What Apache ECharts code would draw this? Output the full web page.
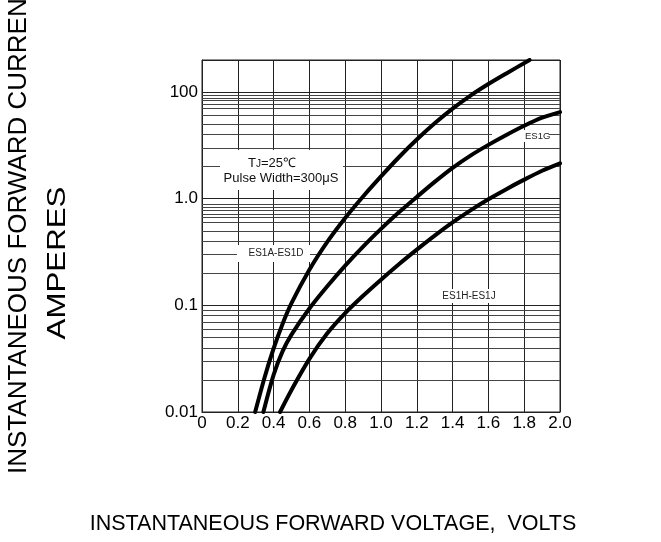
<!DOCTYPE html>
<html>
<head>
<meta charset="utf-8">
<script src="https://cdn.jsdelivr.net/npm/echarts@6/dist/echarts.min.js"></script>
<style>
  html, body { margin: 0; padding: 0; background: #fff; }
  #main { width: 661px; height: 542px; }
</style>
</head>
<body>
<div id="main"></div>
<script>
// [volts, amperes]
var es1aToEs1d = [[0.297, 0.01], [0.35, 0.0212], [0.4, 0.0394], [0.45, 0.067], [0.5, 0.105],
  [0.6, 0.216], [0.7, 0.394], [0.8, 0.66], [0.9, 1.05], [1.0, 1.62], [1.1, 2.45], [1.2, 3.59],
  [1.3, 5.1], [1.4, 7.0], [1.5, 9.28], [1.6, 11.9], [1.7, 14.96], [1.83, 20]];
var es1g = [[0.343, 0.01], [0.4, 0.0223], [0.45, 0.037], [0.5, 0.0531], [0.6, 0.0934], [0.7, 0.151],
  [0.8, 0.236], [0.9, 0.356], [1.0, 0.521], [1.1, 0.745], [1.2, 1.04], [1.3, 1.44], [1.4, 1.95],
  [1.5, 2.54], [1.6, 3.2], [1.7, 3.96], [1.8, 4.83], [1.9, 5.75], [2.0, 6.5]];
var es1hToEs1j = [[0.436, 0.01], [0.5, 0.0161], [0.6, 0.0315], [0.7, 0.0547], [0.8, 0.0847],
  [0.9, 0.123], [1.0, 0.174], [1.1, 0.243], [1.2, 0.333], [1.3, 0.451], [1.4, 0.599], [1.5, 0.777],
  [1.6, 0.987], [1.7, 1.23], [1.8, 1.51], [1.9, 1.83], [2.0, 2.15]];

var xTickLabels = ['0', '0.2', '0.4', '0.6', '0.8', '1.0', '1.2', '1.4', '1.6', '1.8', '2.0'];
var yTickValues = [0.01, 0.1, 1, 10];
var yTickLabels = ['0.01', '0.1', '1.0', '100'];
// the printed grid is uneven near the top of each decade
var minorGrid = [9.4, 8.8, 8.3, 7.7, 7.1, 6.1, 5, 4, 3, 2,
  0.88, 0.83, 0.78, 0.72, 0.67, 0.6, 0.5, 0.4, 0.3, 0.2,
  0.09, 0.084, 0.077, 0.07, 0.06, 0.05, 0.04, 0.03, 0.02];

var FONT = "'Liberation Sans', Arial, sans-serif";
var chart = echarts.init(document.getElementById('main'));

function curve(name, data) {
  return {
    name: name,
    type: 'line',
    data: data,
    smooth: 0.3,
    showSymbol: false,
    silent: true,
    z: 3,
    lineStyle: { color: '#000', width: 4, join: 'round', cap: 'round' }
  };
}

function label(text, x, y, box, size) {
  return [
    { type: 'rect', z: 2, silent: true, shape: box, style: { fill: '#fff' } },
    { type: 'text', z: 2, silent: true, x: x, y: y,
      style: { text: text, font: size + 'px ' + FONT, fill: '#222',
        align: 'center', verticalAlign: 'middle', textAlign: 'center', textVerticalAlign: 'middle' } }
  ];
}

var series = [
  curve('ES1A-ES1D', es1aToEs1d),
  curve('ES1G', es1g),
  curve('ES1H-ES1J', es1hToEs1j)
];
series[2].markLine = {
  silent: true,
  z: 1,
  symbol: 'none',
  animation: false,
  label: { show: false },
  lineStyle: { color: '#444', width: 1, type: 'solid' },
  data: minorGrid.map(function (v) { return { yAxis: v }; })
};

var graphics = [].concat(
  label('', 0, 0, { x: 220, y: 150, width: 123, height: 40 }, 13),
  label('ES1A-ES1D', 276, 253, { x: 237, y: 245, width: 73, height: 17 }, 10),
  label('ES1H-ES1J', 469, 296, { x: 436, y: 289, width: 66, height: 14 }, 10),
  [
    { type: 'rect', z: 2, silent: true, shape: { x: 492, y: 130, width: 57, height: 12 }, style: { fill: '#fff' } },
    { type: 'text', z: 2, silent: true, x: 525, y: 136,
      style: { text: 'ES1G', font: '9.5px ' + FONT, fill: '#222', align: 'left', verticalAlign: 'middle',
        textAlign: 'left', textVerticalAlign: 'middle' } },
    { type: 'text', z: 2, silent: true, x: 272, y: 163,
      style: { text: '{n|T}{s|J}{n|=25℃}', align: 'center', verticalAlign: 'middle',
        textAlign: 'center', textVerticalAlign: 'middle',
        rich: {
          n: { font: '13px ' + FONT, fill: '#111', lineHeight: 15 },
          s: { font: '10px ' + FONT, fill: '#111', lineHeight: 15, verticalAlign: 'bottom', padding: [0, 0, 1, 0] }
        } } },
    { type: 'text', z: 2, silent: true, x: 281, y: 178,
      style: { text: 'Pulse Width=300μS', font: '13px ' + FONT, fill: '#111', align: 'center',
        verticalAlign: 'middle', textAlign: 'center', textVerticalAlign: 'middle' } },
    { type: 'text', silent: true, x: 19, y: 474, rotation: Math.PI / 2,
      style: { text: 'INSTANTANEOUS FORWARD CURRENT', font: '26px ' + FONT, fill: '#000',
        align: 'left', verticalAlign: 'middle', textAlign: 'left', textVerticalAlign: 'middle' } },
    { type: 'text', silent: true, x: 58, y: 263, rotation: Math.PI / 2, scaleX: 1.25,
      style: { text: 'AMPERES', font: '25px ' + FONT, fill: '#000',
        align: 'center', verticalAlign: 'middle', textAlign: 'center', textVerticalAlign: 'middle' } },
    { type: 'text', silent: true, x: 333, y: 524,
      style: { text: 'INSTANTANEOUS FORWARD VOLTAGE,  VOLTS', font: '21.5px ' + FONT, fill: '#000',
        align: 'center', verticalAlign: 'middle', textAlign: 'center', textVerticalAlign: 'middle' } }
  ]
);

chart.setOption({
  animation: false,
  backgroundColor: '#fff',
  grid: { left: 202, top: 60, right: 101, bottom: 130, show: true, borderColor: '#222', borderWidth: 1 },
  xAxis: {
    type: 'value',
    min: 0,
    max: 2,
    interval: 0.2,
    axisLine: { show: true, lineStyle: { color: '#222', width: 1 } },
    axisTick: { show: false },
    splitLine: { show: true, lineStyle: { color: '#222', width: 1 } },
    axisLabel: {
      color: '#000',
      fontFamily: FONT,
      fontSize: 17,
      margin: 3,
      formatter: function (v) { return xTickLabels[Math.round(v / 0.2)]; }
    }
  },
  yAxis: {
    type: 'log',
    logBase: 10,
    min: 0.01,
    max: 20,
    axisLine: { show: true, lineStyle: { color: '#222', width: 1 } },
    axisTick: { show: false },
    splitLine: { show: true, lineStyle: { color: '#222', width: 1 } },
    axisLabel: {
      color: '#000',
      fontFamily: FONT,
      fontSize: 17,
      margin: 4,
      formatter: function (v) {
        for (var i = 0; i < yTickValues.length; i++) {
          if (Math.abs(v - yTickValues[i]) / yTickValues[i] < 1e-6) return yTickLabels[i];
        }
        return '';
      }
    }
  },
  series: series,
  graphic: graphics
});
</script>
</body>
</html>
